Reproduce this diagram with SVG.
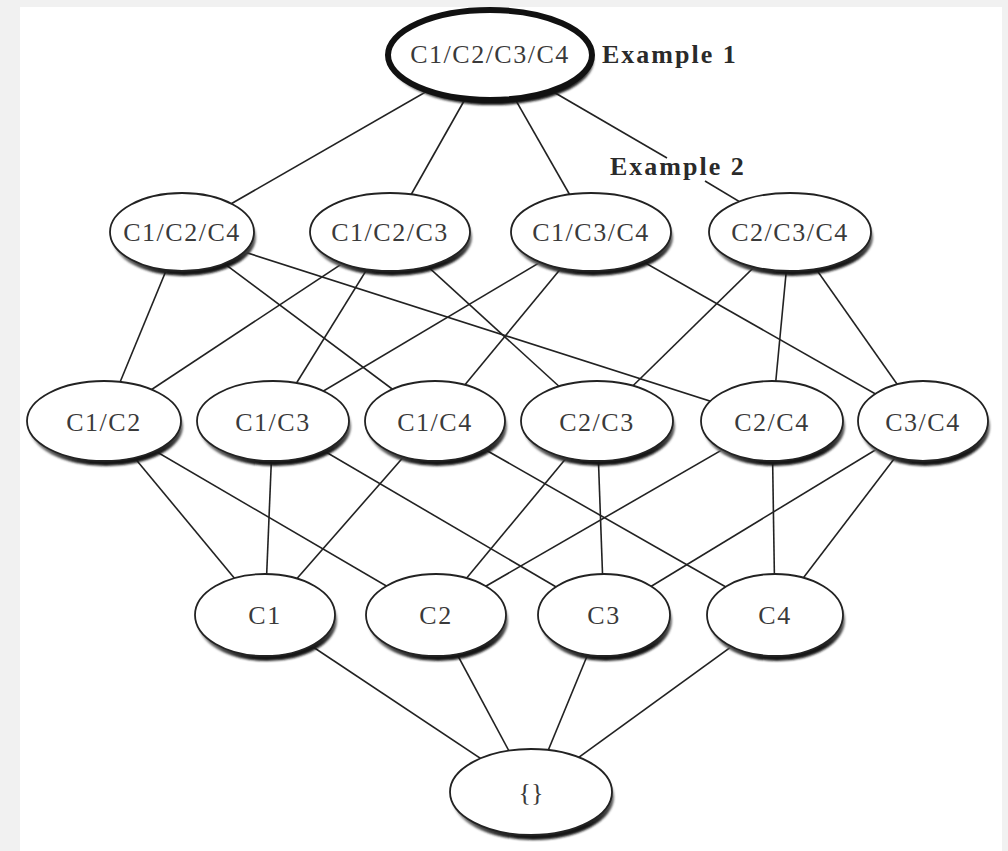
<svg xmlns="http://www.w3.org/2000/svg" width="1008" height="851" viewBox="0 0 1008 851">
<defs>
<linearGradient id="sh" x1="0" y1="0" x2="0.3" y2="1">
<stop offset="0.5" stop-color="#bbbbbb"/>
<stop offset="1" stop-color="#151515"/>
</linearGradient>
<filter id="blur" x="-10%" y="-10%" width="120%" height="120%"><feGaussianBlur stdDeviation="0.8"/></filter>
</defs>
<style>
.bg{fill:#f1f1f1}
.page{fill:#ffffff}
.edge{stroke:#222;stroke-width:1.6;fill:none}
.shadow{fill:url(#sh);filter:url(#blur)}
.node{fill:#ffffff;stroke:#222;stroke-width:1.8}
.top{fill:#ffffff;stroke:#111;stroke-width:6}
.lbl{font-family:"Liberation Serif","Times New Roman",serif;font-size:26px;fill:#3a3a3a;text-anchor:middle;letter-spacing:1.5px}
.ex{font-family:"Liberation Serif","Times New Roman",serif;font-size:26px;font-weight:bold;fill:#2a2a2a;letter-spacing:2px}
</style>
<rect class="bg" x="0" y="0" width="1008" height="851"/>
<rect class="page" x="20" y="7" width="982" height="844"/>
<g id="connectors">
<line class="edge" x1="490" y1="55" x2="182" y2="232"/>
<line class="edge" x1="490" y1="55" x2="390" y2="232"/>
<line class="edge" x1="490" y1="55" x2="591" y2="232"/>
<line class="edge" x1="490" y1="55" x2="667" y2="158"/>
<line class="edge" x1="705" y1="181" x2="790" y2="232"/>
<line class="edge" x1="182" y1="232" x2="104" y2="421"/>
<line class="edge" x1="182" y1="232" x2="435" y2="421"/>
<line class="edge" x1="182" y1="232" x2="772" y2="421"/>
<line class="edge" x1="390" y1="232" x2="104" y2="421"/>
<line class="edge" x1="390" y1="232" x2="273" y2="421"/>
<line class="edge" x1="390" y1="232" x2="597" y2="421"/>
<line class="edge" x1="591" y1="232" x2="273" y2="421"/>
<line class="edge" x1="591" y1="232" x2="435" y2="421"/>
<line class="edge" x1="591" y1="232" x2="923" y2="421"/>
<line class="edge" x1="790" y1="232" x2="597" y2="421"/>
<line class="edge" x1="790" y1="232" x2="772" y2="421"/>
<line class="edge" x1="790" y1="232" x2="923" y2="421"/>
<line class="edge" x1="104" y1="421" x2="265" y2="615"/>
<line class="edge" x1="104" y1="421" x2="436" y2="615"/>
<line class="edge" x1="273" y1="421" x2="265" y2="615"/>
<line class="edge" x1="273" y1="421" x2="604" y2="615"/>
<line class="edge" x1="435" y1="421" x2="265" y2="615"/>
<line class="edge" x1="435" y1="421" x2="775" y2="615"/>
<line class="edge" x1="597" y1="421" x2="436" y2="615"/>
<line class="edge" x1="597" y1="421" x2="604" y2="615"/>
<line class="edge" x1="772" y1="421" x2="436" y2="615"/>
<line class="edge" x1="772" y1="421" x2="775" y2="615"/>
<line class="edge" x1="923" y1="421" x2="604" y2="615"/>
<line class="edge" x1="923" y1="421" x2="775" y2="615"/>
<line class="edge" x1="265" y1="615" x2="531" y2="792"/>
<line class="edge" x1="436" y1="615" x2="531" y2="792"/>
<line class="edge" x1="604" y1="615" x2="531" y2="792"/>
<line class="edge" x1="775" y1="615" x2="531" y2="792"/>
</g>
<g id="n-c1c2c3c4">
<ellipse class="shadow" cx="492" cy="60" rx="102" ry="45"/>
<ellipse class="top" cx="490" cy="55" rx="102" ry="45"/>
<text class="lbl" x="490" y="63">C1/C2/C3/C4</text>
</g>
<text class="ex" x="602" y="63">Example 1</text>
<text class="ex" x="610" y="175">Example 2</text>
<g id="n-c1c2c4">
<ellipse class="shadow" cx="184" cy="237" rx="72" ry="39"/>
<ellipse class="node" cx="182" cy="232" rx="72" ry="39"/>
<text class="lbl" x="182" y="241">C1/C2/C4</text>
</g>
<g id="n-c1c2c3">
<ellipse class="shadow" cx="392" cy="237" rx="80" ry="39"/>
<ellipse class="node" cx="390" cy="232" rx="80" ry="39"/>
<text class="lbl" x="390" y="241">C1/C2/C3</text>
</g>
<g id="n-c1c3c4">
<ellipse class="shadow" cx="593" cy="237" rx="80" ry="39"/>
<ellipse class="node" cx="591" cy="232" rx="80" ry="39"/>
<text class="lbl" x="591" y="241">C1/C3/C4</text>
</g>
<g id="n-c2c3c4">
<ellipse class="shadow" cx="792" cy="237" rx="81" ry="39"/>
<ellipse class="node" cx="790" cy="232" rx="81" ry="39"/>
<text class="lbl" x="790" y="241">C2/C3/C4</text>
</g>
<g id="n-c1c2">
<ellipse class="shadow" cx="106" cy="426" rx="77" ry="40"/>
<ellipse class="node" cx="104" cy="421" rx="77" ry="40"/>
<text class="lbl" x="104" y="431">C1/C2</text>
</g>
<g id="n-c1c3">
<ellipse class="shadow" cx="275" cy="426" rx="76" ry="40"/>
<ellipse class="node" cx="273" cy="421" rx="76" ry="40"/>
<text class="lbl" x="273" y="431">C1/C3</text>
</g>
<g id="n-c1c4">
<ellipse class="shadow" cx="437" cy="426" rx="70" ry="40"/>
<ellipse class="node" cx="435" cy="421" rx="70" ry="40"/>
<text class="lbl" x="435" y="431">C1/C4</text>
</g>
<g id="n-c2c3">
<ellipse class="shadow" cx="599" cy="426" rx="76" ry="40"/>
<ellipse class="node" cx="597" cy="421" rx="76" ry="40"/>
<text class="lbl" x="597" y="431">C2/C3</text>
</g>
<g id="n-c2c4">
<ellipse class="shadow" cx="774" cy="426" rx="71" ry="40"/>
<ellipse class="node" cx="772" cy="421" rx="71" ry="40"/>
<text class="lbl" x="772" y="431">C2/C4</text>
</g>
<g id="n-c3c4">
<ellipse class="shadow" cx="925" cy="426" rx="65" ry="40"/>
<ellipse class="node" cx="923" cy="421" rx="65" ry="40"/>
<text class="lbl" x="923" y="431">C3/C4</text>
</g>
<g id="n-c1">
<ellipse class="shadow" cx="267" cy="620" rx="70" ry="41"/>
<ellipse class="node" cx="265" cy="615" rx="70" ry="41"/>
<text class="lbl" x="265" y="624">C1</text>
</g>
<g id="n-c2">
<ellipse class="shadow" cx="438" cy="620" rx="70" ry="41"/>
<ellipse class="node" cx="436" cy="615" rx="70" ry="41"/>
<text class="lbl" x="436" y="624">C2</text>
</g>
<g id="n-c3">
<ellipse class="shadow" cx="606" cy="620" rx="66" ry="41"/>
<ellipse class="node" cx="604" cy="615" rx="66" ry="41"/>
<text class="lbl" x="604" y="624">C3</text>
</g>
<g id="n-c4">
<ellipse class="shadow" cx="777" cy="620" rx="68" ry="41"/>
<ellipse class="node" cx="775" cy="615" rx="68" ry="41"/>
<text class="lbl" x="775" y="624">C4</text>
</g>
<g id="n-empty">
<ellipse class="shadow" cx="533" cy="797" rx="81" ry="43"/>
<ellipse class="node" cx="531" cy="792" rx="81" ry="43"/>
<text class="lbl" x="531" y="801" style="letter-spacing:0">{}</text>
</g>
</svg>
